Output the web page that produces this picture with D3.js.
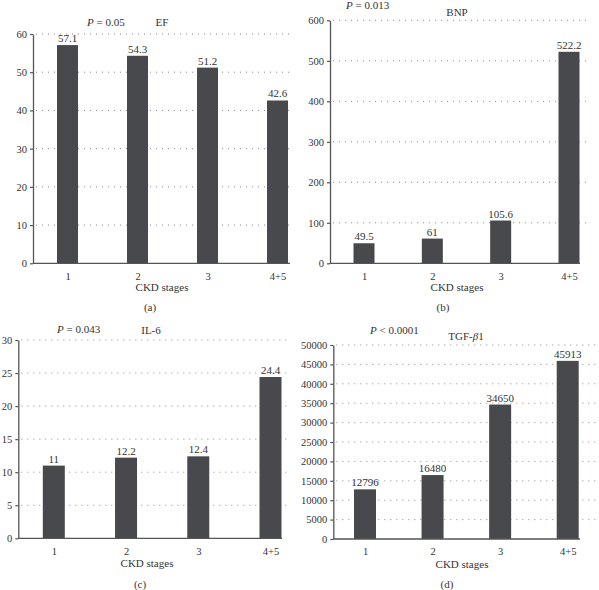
<!DOCTYPE html>
<html>
<head>
<meta charset="utf-8">
<script src="https://cdn.jsdelivr.net/npm/d3@7"></script>
<style>
  body { margin: 0; background: #fff; }
  svg { display: block; }
  text { font-family: "Liberation Serif", "DejaVu Serif", serif; fill: #333; }
</style>
</head>
<body>
<svg id="chart" width="599" height="590"></svg>
<script>
// ---- data ----
const categories = ["1", "2", "3", "4+5"];
const efValues  = [57.1, 54.3, 51.2, 42.6];
const bnpValues = [49.5, 61, 105.6, 522.2];
const il6Values = [11, 12.2, 12.4, 24.4];
const tgfValues = [12796, 16480, 34650, 45913];
const efTicks  = [0, 10, 20, 30, 40, 50, 60];
const bnpTicks = [0, 100, 200, 300, 400, 500, 600];
const il6Ticks = [0, 5, 10, 15, 20, 25, 30];
const tgfTicks = [0, 5000, 10000, 15000, 20000, 25000, 30000, 35000, 40000, 45000, 50000];
const panelTitles = ["EF", "BNP", "IL-6", "TGF-β1"];
const pValues = ["= 0.05", "= 0.013", "= 0.043", "< 0.0001"];
const panelLetters = ["(a)", "(b)", "(c)", "(d)"];
const xTitle = "CKD stages";

// ---- layout (positions/styles) ----
const panels = [
  { values: efValues, ticks: efTicks, left: 33, y0: 263.3, y1: 34, c0: 67.5, c3: 277.5, bw: 21, axisEnd: 290, gridEnd: 294,
    pX: 87, pY: 25.5, tX: 162, tY: 26, xtY: 290.5, xtX: 162, letY: 311, letX: 150 },
  { values: bnpValues, ticks: bnpTicks, left: 330, y0: 263.3, y1: 20.3, c0: 364, c3: 569, bw: 21, axisEnd: 580, gridEnd: 586,
    pX: 346, pY: 9, tX: 457, tY: 16, xtY: 290.5, xtX: 457, letY: 311, letX: 443 },
  { values: il6Values, ticks: il6Ticks, left: 18.3, y0: 538.3, y1: 340, c0: 53.8, c3: 270.5, bw: 22, axisEnd: 282, gridEnd: 287,
    pX: 57, pY: 333, tX: 151, tY: 333.5, xtY: 567, xtX: 147, letY: 587.5, letX: 140 },
  { values: tgfValues, ticks: tgfTicks, left: 333.3, y0: 539, y1: 345, c0: 365, c3: 567.7, bw: 22, axisEnd: 580, gridEnd: 599,
    pX: 370, pY: 334, tX: 466, tY: 340, xtY: 567.5, xtX: 462, letY: 587.5, letX: 447 }
];

const svg = d3.select("#chart");
const barColor = "#47494c";
const axisColor = "#555";
const fs = 11, tickFs = 10.5;

panels.forEach((p, i) => {
  const g = svg.append("g");
  const maxT = p.ticks[p.ticks.length - 1];
  const y = d3.scaleLinear().domain([0, maxT]).range([p.y0, p.y1]);
  const x = d3.scalePoint().domain(categories).range([p.c0, p.c3]);

  // gridlines
  g.selectAll("line.grid").data(p.ticks.filter(t => t > 0)).join("line")
    .attr("x1", p.left + 3).attr("x2", p.gridEnd)
    .attr("y1", d => y(d)).attr("y2", d => y(d))
    .attr("stroke", "#8a8a8a").attr("stroke-width", 1)
    .attr("stroke-dasharray", "1,5");

  // bars
  g.selectAll("rect").data(p.values).join("rect")
    .attr("x", (d, j) => x(categories[j]) - p.bw / 2)
    .attr("width", p.bw)
    .attr("y", d => y(d))
    .attr("height", d => p.y0 - y(d))
    .attr("fill", barColor);

  // value labels
  g.selectAll("text.val").data(p.values).join("text")
    .attr("class", "val")
    .attr("x", (d, j) => x(categories[j]))
    .attr("y", d => y(d) - 3)
    .attr("text-anchor", "middle")
    .attr("font-size", fs)
    .text(d => String(d));

  // y axis
  const yAxis = d3.axisLeft(y).tickValues(p.ticks).tickFormat(d3.format("d"))
    .tickSize(3).tickSizeOuter(0).tickPadding(3);
  const ya = g.append("g").attr("transform", `translate(${p.left},0)`).call(yAxis);
  ya.select(".domain").attr("stroke", axisColor).attr("stroke-width", 1.3);
  ya.selectAll(".tick line").attr("stroke", axisColor).attr("stroke-width", 1.2);
  ya.selectAll(".tick text").attr("font-size", tickFs).attr("font-family", "Liberation Serif, serif").attr("fill", "#333");

  // x axis
  const xAxis = d3.axisBottom(x).tickSize(0).tickPadding(9);
  const xa = g.append("g").attr("transform", `translate(0,${p.y0})`).call(xAxis);
  xa.select(".domain").remove();
  xa.selectAll(".tick text").attr("font-size", tickFs).attr("font-family", "Liberation Serif, serif").attr("fill", "#333");
  g.append("line").attr("x1", p.left).attr("x2", p.axisEnd)
    .attr("y1", p.y0).attr("y2", p.y0)
    .attr("stroke", axisColor).attr("stroke-width", 1.3);

  // P value
  const pt = g.append("text").attr("x", p.pX).attr("y", p.pY).attr("font-size", fs);
  pt.append("tspan").attr("font-style", "italic").text("P");
  pt.append("tspan").text(" " + pValues[i]);

  // panel title
  const tt = g.append("text").attr("x", p.tX).attr("y", p.tY).attr("font-size", fs).attr("text-anchor", "middle");
  if (panelTitles[i].includes("β")) {
    tt.append("tspan").text("TGF-");
    tt.append("tspan").attr("font-style", "italic").text("β");
    tt.append("tspan").text("1");
  } else {
    tt.text(panelTitles[i]);
  }

  // x title
  g.append("text").attr("x", p.xtX).attr("y", p.xtY).attr("text-anchor", "middle")
    .attr("font-size", fs).text(xTitle);

  // panel letter
  g.append("text").attr("x", p.letX).attr("y", p.letY).attr("text-anchor", "middle")
    .attr("font-size", fs).text(panelLetters[i]);
});
</script>
</body>
</html>
